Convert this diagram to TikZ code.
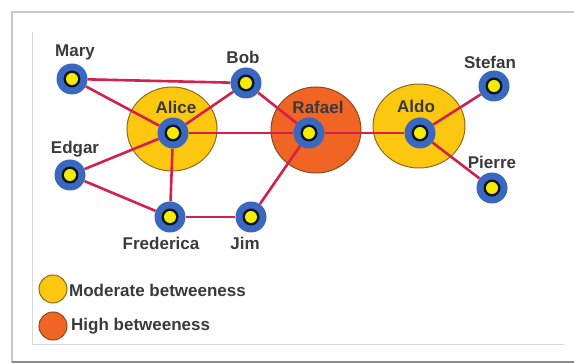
\documentclass[tikz,border=0pt]{standalone}
\usepackage{fontspec}
\setmainfont{Liberation Sans}
\pgfdeclarelayer{bg}
\pgfdeclarelayer{edgelayer}
\pgfsetlayers{bg,edgelayer,main}
\definecolor{edgered}{HTML}{D3204C}
\definecolor{nodeblue}{HTML}{3A68BE}
\definecolor{dotyellow}{HTML}{F5EC00}
\definecolor{modyellow}{HTML}{FBC70F}
\definecolor{modborder}{HTML}{8C6A1C}
\definecolor{highorange}{HTML}{F06424}
\definecolor{highborder}{HTML}{8A4A22}
\definecolor{txt}{HTML}{3A3A3A}
\definecolor{frame}{HTML}{C8C8C8}
\tikzset{
  person/.style={circle, minimum size=31pt, inner sep=0pt, fill=nodeblue,
    path picture={\fill[black!80!nodeblue] (path picture bounding box.center) circle (8.5pt);
      \fill[dotyellow] (path picture bounding box.center) circle (6pt);}},
  lbl/.style={font=\bfseries\fontsize{17}{19}\selectfont, text=txt, inner sep=0pt},
  link/.style={draw=edgered, line width=2.6pt},
  modcirc/.style={fill=modyellow, draw=modborder, line width=1pt},
  highcirc/.style={fill=highorange, draw=highborder, line width=1pt}
}
\begin{document}
\begin{tikzpicture}[x=1pt,y=-1pt]
\useasboundingbox (0,0) rectangle (574,363);
\begin{pgfonlayer}{bg}
\fill[white] (0,0) rectangle (574,363);
% frame
\draw[frame, line width=1.2pt] (12,363) -- (12,12) -- (574,12);
\draw[black!45, line width=2pt] (12,362) -- (574,362);
\draw[frame!70, line width=1pt] (32,32) -- (32,345) -- (564,345);
% betweenness circles
\path[modcirc] (172,129) ellipse [x radius=45, y radius=42];
\path[highcirc] (316,130) ellipse [x radius=45, y radius=43];
\path[modcirc] (419,126) ellipse [x radius=46, y radius=42];
\end{pgfonlayer}
% people
\node[person] (mary) at (72,79) {};
\node[person] (bob) at (246,83) {};
\node[person] (alice) at (173,133) {};
\node[person] (edgar) at (70,175) {};
\node[person] (frederica) at (170,217) {};
\node[person] (jim) at (251,217) {};
\node[person] (rafael) at (309,133) {};
\node[person] (aldo) at (420,133) {};
\node[person] (stefan) at (494,86) {};
\node[person] (pierre) at (492,188) {};
% labels
\node[lbl] (lmary) at (75,52) {Mary};
\node[lbl] (lbob) at (243,57) {Bob};
\node[lbl] (lalice) at (176,107) {Alice};
\node[lbl] (ledgar) at (75,149) {Edgar};
\node[lbl] (lfrederica) at (161,243) {Frederica};
\node[lbl] (ljim) at (245,243) {Jim};
\node[lbl] (lrafael) at (318,107) {Rafael};
\node[lbl] (laldo) at (416,106) {Aldo};
\node[lbl] (lstefan) at (490,62) {Stefan};
\node[lbl] (lpierre) at (492,162) {Pierre};
% links
\begin{pgfonlayer}{edgelayer}
\draw[link] (mary) -- (bob);
\draw[link] (mary) -- (alice);
\draw[link] (bob) -- (alice);
\draw[link] (bob) -- (rafael);
\draw[link] (alice) -- (rafael);
\draw[link] (alice) -- (edgar);
\draw[link] (alice) -- (frederica);
\draw[link] (edgar) -- (frederica);
\draw[link] (frederica) -- (jim);
\draw[link] (jim) -- (rafael);
\draw[link] (rafael) -- (aldo);
\draw[link] (aldo) -- (stefan);
\draw[link] (aldo) -- (pierre);
\end{pgfonlayer}
% legend
\path[modcirc] (53,289) circle (14);
\node[lbl, anchor=west] (lmod) at (69,290) {Moderate betweeness};
\path[highcirc] (53,326) circle (14);
\node[lbl, anchor=west] (lhigh) at (71,326) {High betweeness};
\end{tikzpicture}
\end{document}
